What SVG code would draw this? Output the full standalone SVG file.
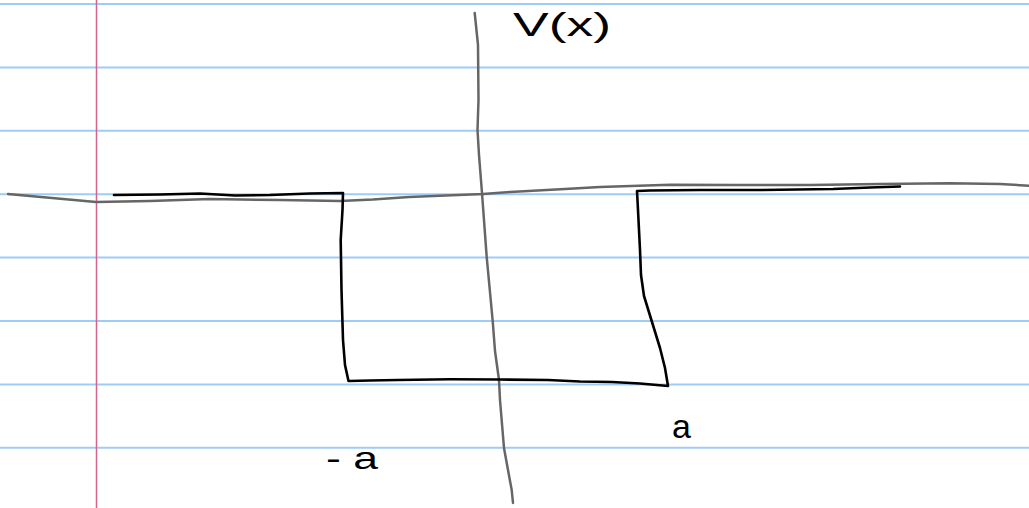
<svg xmlns="http://www.w3.org/2000/svg" width="1029" height="508" viewBox="0 0 1029 508">
<style>
.rule{stroke:#9fcbf7;stroke-width:2}
.margin{stroke:#d0668e;stroke-width:1.5}
.axis{fill:none;stroke:#666;stroke-width:2.5;stroke-linecap:round;stroke-linejoin:round}
.pot{fill:none;stroke:#000;stroke-width:2.6;stroke-linecap:round;stroke-linejoin:round}
.lbl{font-family:"Liberation Sans","DejaVu Sans",sans-serif;fill:#000}
</style>
<rect width="1029" height="508" fill="#fff"/>
<g id="paper">
<line class="rule" x1="0" y1="4" x2="1029" y2="4"/>
<line class="rule" x1="0" y1="67.4" x2="1029" y2="67.4"/>
<line class="rule" x1="0" y1="130.8" x2="1029" y2="130.8"/>
<line class="rule" x1="0" y1="194.2" x2="1029" y2="194.2"/>
<line class="rule" x1="0" y1="257.6" x2="1029" y2="257.6"/>
<line class="rule" x1="0" y1="321" x2="1029" y2="321"/>
<line class="rule" x1="0" y1="384.4" x2="1029" y2="384.4"/>
<line class="rule" x1="0" y1="447.8" x2="1029" y2="447.8"/>
<line class="margin" x1="96.5" y1="0" x2="96.5" y2="508"/>
</g>
<g id="axes">
<path class="axis" d="M8,194 L96,202 L150,201 L210,199 L280,200 L340,201 L373,199.5 L409,197 L483,194 L510,192 L565,189 L600,187 L670,184.7 L740,185 L810,185 L880,184 L950,183.3 L1000,184 L1029,185.7"/>
<path class="axis" d="M474.7,13 L478,45 L478.5,100 L477.5,130 L479,155 L482,193 L486.7,257 L492.7,321 L495,351 L499,380 L500,400 L504,448 L508,470 L511.7,490 L513,503"/>
</g>
<g id="potential">
<path class="pot" d="M114,195 L160,194.5 L200,193.5 L235,195.5 L270,195 L310,193.5 L343,193 L342.5,210 L340.7,240 L341.5,290 L343,340 L345,365 L348.5,381 L370,380.5 L398,380 L450,379.3 L500,379.5 L548,380 L580,381.5 L612,382 L640,383.5 L668,386 L665,368 L660,348 L652,322 L644,296 L641,275 L640,250 L638,210 L637,191 L650,190.5 L700,190 L760,190 L833,189 L870,187.5 L900,186.5"/>
</g>
<g id="labels">
<text class="lbl" x="513" y="36" font-size="34" textLength="98" lengthAdjust="spacingAndGlyphs">V(x)</text>
<text class="lbl" x="326" y="469" font-size="32" textLength="52" lengthAdjust="spacingAndGlyphs">- a</text>
<text class="lbl" x="672" y="438" font-size="34">a</text>
</g>
</svg>
